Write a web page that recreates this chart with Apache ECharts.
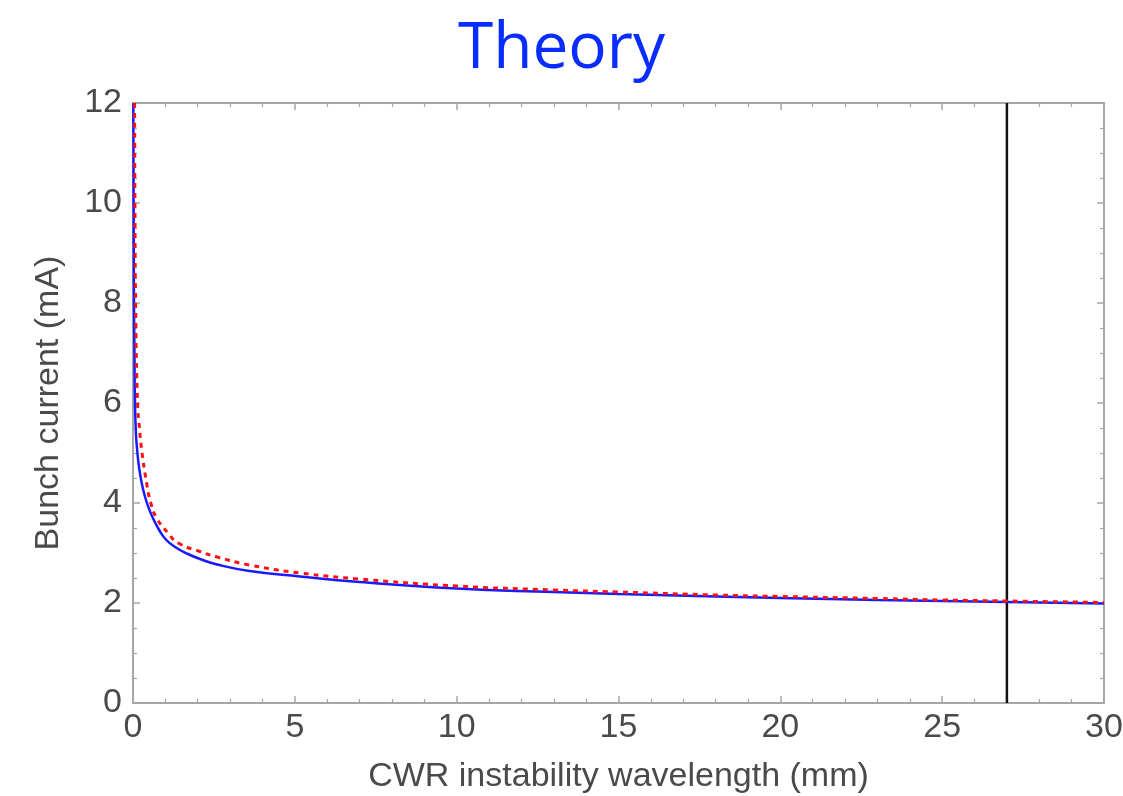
<!DOCTYPE html>
<html>
<head>
<meta charset="utf-8">
<title>Theory</title>
<script src="https://cdn.jsdelivr.net/npm/echarts@6/dist/echarts.min.js"></script>
<style>
  html, body { margin: 0; padding: 0; background: #ffffff; }
  #chart { width: 1123px; height: 796px; }
</style>
</head>
<body>
<div id="chart"></div>
<script>
// Threshold bunch current vs CWR instability wavelength
const wavelengthSolid = [0.01, 0.02, 0.03, 0.045, 0.06, 0.09, 0.13, 0.19, 0.27, 0.36, 0.47, 0.6, 0.8, 1.0, 1.3, 1.7, 2.07, 2.6, 3.6, 5.16, 7, 10, 13, 15, 18, 20, 23, 25, 27, 30];
const currentSolid    = [12, 10, 8, 7, 6.05, 5.4, 5.05, 4.7, 4.4, 4.15, 3.93, 3.72, 3.47, 3.28, 3.12, 2.98, 2.88, 2.77, 2.64, 2.53, 2.42, 2.29, 2.22, 2.18, 2.13, 2.1, 2.06, 2.04, 2.02, 1.99];

const wavelengthDotted = [0.05, 0.06, 0.08, 0.14, 0.2, 0.27, 0.42, 0.55, 0.73, 1.08, 1.4, 2.07, 2.6, 3.6, 5.16, 7, 10, 13, 15, 18, 20, 23, 25, 27, 30];
const currentDotted    = [12, 10, 8, 6, 5.5, 5.05, 4.4, 4.0, 3.7, 3.4, 3.2, 3.03, 2.92, 2.76, 2.6, 2.48, 2.34, 2.26, 2.22, 2.16, 2.13, 2.09, 2.06, 2.04, 2.01];

// Marker wavelength (vertical line)
const markerWavelength = [27, 27];
const markerCurrent = [0, 12];

const xTicks = [0, 5, 10, 15, 20, 25, 30];
const yTicks = [0, 2, 4, 6, 8, 10, 12];

const zip = (xs, ys) => xs.map((x, i) => [x, ys[i]]);

const frameColor = '#a6a6a6';
const labelColor = '#4a4a4a';
const sansFont = '"Liberation Sans", Arial, sans-serif';

function frameAxis(extra) {
  return Object.assign({
    type: 'value',
    axisLine: { show: true, onZero: false, lineStyle: { color: frameColor, width: 2 } },
    axisTick: { show: true, inside: true, length: 7, lineStyle: { color: frameColor, width: 1.5 } },
    minorTick: { show: true, length: 4, lineStyle: { color: frameColor, width: 1.2 } },
    splitLine: { show: false },
    minorSplitLine: { show: false }
  }, extra);
}

const chart = echarts.init(document.getElementById('chart'), null, { renderer: 'canvas' });

chart.setOption({
  backgroundColor: '#ffffff',
  animation: false,
  title: {
    text: 'Theory',
    left: 'center',
    top: 13,
    textStyle: { color: '#0a2dff', fontSize: 64, fontWeight: 'normal', fontFamily: '"Open Sans", "Noto Sans", sans-serif' }
  },
  grid: { left: 133, right: 19, top: 103, bottom: 93, containLabel: false, outerBoundsMode: 'none' },
  xAxis: [
    frameAxis({
      position: 'bottom',
      min: xTicks[0], max: xTicks[xTicks.length - 1], interval: 5,
      minorTick: { show: true, splitNumber: 5, length: 4, lineStyle: { color: frameColor, width: 1.2 } },
      name: 'CWR instability wavelength (mm)',
      nameLocation: 'middle',
      nameGap: 57,
      nameTextStyle: { color: labelColor, fontSize: 34, fontFamily: sansFont },
      axisLabel: { show: true, color: labelColor, fontSize: 34, fontFamily: sansFont, margin: 8 }
    }),
    frameAxis({
      position: 'top',
      min: xTicks[0], max: xTicks[xTicks.length - 1], interval: 5,
      minorTick: { show: true, splitNumber: 5, length: 4, lineStyle: { color: frameColor, width: 1.2 } },
      axisLabel: { show: false }
    })
  ],
  yAxis: [
    frameAxis({
      position: 'left',
      min: yTicks[0], max: yTicks[yTicks.length - 1], interval: 2,
      minorTick: { show: true, splitNumber: 4, length: 4, lineStyle: { color: frameColor, width: 1.2 } },
      name: 'Bunch current (mA)',
      nameLocation: 'middle',
      nameGap: 67,
      nameTextStyle: { color: labelColor, fontSize: 34, fontFamily: sansFont },
      axisLabel: { show: true, color: labelColor, fontSize: 34, fontFamily: sansFont, margin: 11 }
    }),
    frameAxis({
      position: 'right',
      min: yTicks[0], max: yTicks[yTicks.length - 1], interval: 2,
      minorTick: { show: true, splitNumber: 4, length: 4, lineStyle: { color: frameColor, width: 1.2 } },
      axisLabel: { show: false }
    })
  ],
  series: [
    {
      name: 'Marker',
      type: 'line',
      xAxisIndex: 0, yAxisIndex: 0,
      data: zip(markerWavelength, markerCurrent),
      symbol: 'none',
      lineStyle: { color: '#111111', width: 2.5 },
      z: 3
    },
    {
      name: 'Solid',
      type: 'line',
      xAxisIndex: 0, yAxisIndex: 0,
      data: zip(wavelengthSolid, currentSolid),
      symbol: 'none',
      smooth: 0.5,
      lineStyle: { color: '#1a1aff', width: 2.5 },
      z: 4
    },
    {
      name: 'Dotted',
      type: 'line',
      xAxisIndex: 0, yAxisIndex: 0,
      data: zip(wavelengthDotted, currentDotted),
      symbol: 'none',
      smooth: 0.5,
      lineStyle: { color: '#ff1010', width: 3, type: [5, 5] },
      z: 5
    }
  ]
});
</script>
</body>
</html>
